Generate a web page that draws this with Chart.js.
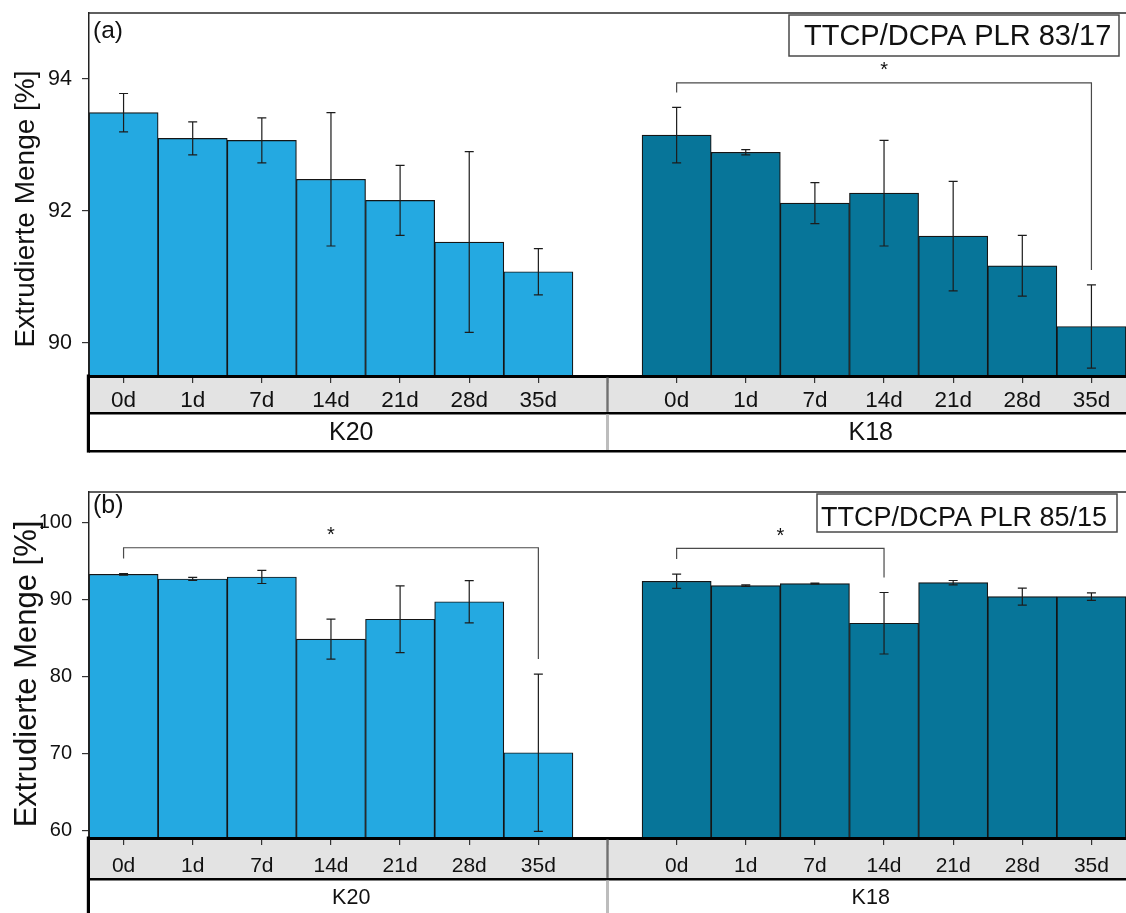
<!DOCTYPE html>
<html>
<head>
<meta charset="utf-8">
<title>Extrudierte Menge</title>
<script src="https://cdn.jsdelivr.net/npm/chart.js@4.4.1/dist/chart.umd.min.js"></script>
<style>
  html, body { margin: 0; padding: 0; background: #fff; }
  #wrap { position: relative; width: 1126px; height: 913px; overflow: hidden; background: #fff; }
  canvas { position: absolute; left: 0; }
  #chartA { top: 0; }
  #chartB { top: 460px; }
</style>
</head>
<body>
<div id="wrap">
  <canvas id="chartA" width="1126" height="460"></canvas>
  <canvas id="chartB" width="1126" height="453"></canvas>
</div>
<script>
// Storage times and groups
const days = ['0d', '1d', '7d', '14d', '21d', '28d', '35d'];
const groups = ['K20', 'K18'];

// (a) TTCP/DCPA PLR 83/17 — mean and standard deviation [%]
const k20A    = [93.49, 93.10, 93.07, 92.48, 92.16, 91.53, 91.08];
const k20AErr = [0.29, 0.25, 0.34, 1.01, 0.53, 1.37, 0.35];
const k18A    = [93.15, 92.89, 92.12, 92.27, 91.62, 91.17, 90.25];
const k18AErr = [0.42, 0.04, 0.31, 0.80, 0.83, 0.46, 0.63];
const yTicksA = [90, 92, 94];

// (b) TTCP/DCPA PLR 85/15 — mean and standard deviation [%]
const k20B    = [93.30, 92.69, 92.95, 84.86, 87.45, 89.73, 70.09];
const k20BErr = [0.10, 0.20, 0.85, 2.60, 4.33, 2.75, 10.23];
const k18B    = [92.39, 91.82, 92.08, 86.93, 92.21, 90.39, 90.39];
const k18BErr = [0.93, 0.10, 0.08, 4.00, 0.28, 1.10, 0.48];
const yTicksB = [60, 70, 80, 90, 100];

// Significant differences (category index from / to, bracket level in %)
const sigA = [{ from: 8, to: 14, level: 93.94 }];
const sigB = [{ from: 0, to: 6, level: 96.75 }, { from: 8, to: 11, level: 96.68 }];

const colK20 = '#24a9e1';
const colK18 = '#077599';

Chart.defaults.font.family = "'Liberation Sans', Arial, Helvetica, sans-serif";
Chart.defaults.color = '#111';

// one empty slot separates the two groups
const labels = days.concat([''], days);
const joinGroups = (a, b) => a.concat([null], b);
const barColors = days.map(() => colK20).concat(['rgba(0,0,0,0)'], days.map(() => colK18));

const decor = {
  id: 'decor',
  beforeDraw(chart, args, o) {
    const { ctx, chartArea: ca } = chart;
    const xs = chart.scales.x;
    ctx.save();
    ctx.fillStyle = '#e3e3e3';
    ctx.fillRect(ca.left, xs.top, ca.right - ca.left, o.bandH);
    ctx.restore();
  },
  afterDatasetsDraw(chart, args, o) {
    const { ctx } = chart;
    const xs = chart.scales.x, ys = chart.scales.y;
    const vals = chart.data.datasets[0].data;
    const errs = o.errors;
    ctx.save();
    // error bars
    ctx.strokeStyle = '#1c1c1c';
    ctx.lineWidth = 1.2;
    vals.forEach((v, i) => {
      if (v == null) return;
      const x = xs.getPixelForValue(i);
      const yt = ys.getPixelForValue(v + errs[i]);
      const yb = ys.getPixelForValue(v - errs[i]);
      ctx.beginPath();
      ctx.moveTo(x, yt); ctx.lineTo(x, yb);
      ctx.moveTo(x - 4.5, yt); ctx.lineTo(x + 4.5, yt);
      ctx.moveTo(x - 4.5, yb); ctx.lineTo(x + 4.5, yb);
      ctx.stroke();
    });
    // significance brackets
    o.sig.forEach(s => {
      const xf = xs.getPixelForValue(s.from), xt = xs.getPixelForValue(s.to);
      const yl = ys.getPixelForValue(s.level);
      const yf = ys.getPixelForValue(vals[s.from] + errs[s.from]) - 15;
      const yt = ys.getPixelForValue(vals[s.to] + errs[s.to]) - 15;
      ctx.strokeStyle = '#4a4a4a';
      ctx.lineWidth = 1.2;
      ctx.beginPath();
      ctx.moveTo(xf, yf); ctx.lineTo(xf, yl); ctx.lineTo(xt, yl); ctx.lineTo(xt, yt);
      ctx.stroke();
      ctx.fillStyle = '#111';
      ctx.font = "20px 'Liberation Sans', Arial, sans-serif";
      ctx.textAlign = 'center';
      ctx.textBaseline = 'alphabetic';
      ctx.fillText('*', (xf + xt) / 2, yl - 6.5);
    });
    ctx.restore();
  },
  afterDraw(chart, args, o) {
    const { ctx, chartArea: ca } = chart;
    const xs = chart.scales.x;
    const H = chart.height;
    ctx.save();
    // frame top line
    ctx.strokeStyle = '#2a2a2a';
    ctx.lineWidth = 1.5;
    ctx.beginPath();
    ctx.moveTo(ca.left, ca.top); ctx.lineTo(ca.right, ca.top);
    ctx.stroke();

    // category band lines
    const midY = xs.top + o.bandH + 1.2;
    const botY = o.bottomLine;
    ctx.strokeStyle = '#000';
    ctx.lineWidth = 2.6;
    ctx.beginPath();
    ctx.moveTo(ca.left, midY); ctx.lineTo(ca.right, midY);
    if (botY != null) { ctx.moveTo(ca.left, botY); ctx.lineTo(ca.right, botY); }
    ctx.stroke();
    ctx.lineWidth = 3.2;
    ctx.beginPath();
    ctx.moveTo(ca.left - 0.6, xs.top - 1.5);
    ctx.lineTo(ca.left - 0.6, botY != null ? botY + 1.3 : H);
    ctx.stroke();

    // group separator
    const sx = xs.getPixelForValue(7);
    ctx.strokeStyle = '#707070';
    ctx.lineWidth = 2.4;
    ctx.beginPath();
    ctx.moveTo(sx, xs.top + 1.5); ctx.lineTo(sx, midY - 1.3);
    ctx.stroke();
    ctx.strokeStyle = '#bdbdbd';
    ctx.lineWidth = 3;
    ctx.beginPath();
    ctx.moveTo(sx, midY + 1.3); ctx.lineTo(sx, botY != null ? botY - 1.3 : H);
    ctx.stroke();

    // group labels
    ctx.fillStyle = '#111';
    ctx.font = o.groupFont + "px 'Liberation Sans', Arial, sans-serif";
    ctx.textAlign = 'center';
    ctx.textBaseline = 'middle';
    ctx.fillText(groups[0], (ca.left + sx) / 2 + 3, o.groupY);
    ctx.fillText(groups[1], (sx + ca.right) / 2 + 4, o.groupY);

    // y-axis title
    ctx.save();
    ctx.translate(o.titleX, o.titleY);
    ctx.rotate(-Math.PI / 2);
    ctx.font = o.titleFont + "px 'Liberation Sans', Arial, sans-serif";
    ctx.textAlign = 'center';
    ctx.textBaseline = 'middle';
    ctx.fillText('Extrudierte Menge [%]', 0, 0);
    ctx.restore();

    // panel letter
    ctx.font = o.letterFont + "px 'Liberation Sans', Arial, sans-serif";
    ctx.textAlign = 'left';
    ctx.textBaseline = 'alphabetic';
    ctx.fillText(o.letter, ca.left + 4, o.letterY);

    // composition box
    const b = o.box;
    ctx.fillStyle = '#fff';
    ctx.fillRect(b.x, b.y, b.w, b.h);
    ctx.strokeStyle = '#4a4a4a';
    ctx.lineWidth = 1.5;
    ctx.strokeRect(b.x, b.y, b.w, b.h);
    ctx.fillStyle = '#111';
    ctx.font = b.font + "px 'Liberation Sans', Arial, sans-serif";
    ctx.fillText(b.text, b.tx, b.ty);
    ctx.restore();
  }
};

function makeChart(id, cfg) {
  return new Chart(document.getElementById(id), {
    type: 'bar',
    data: {
      labels: labels,
      datasets: [{
        data: joinGroups(cfg.k20, cfg.k18),
        backgroundColor: barColors,
        borderColor: '#151515',
        borderWidth: 1.2,
        categoryPercentage: 1,
        barPercentage: 1
      }]
    },
    options: {
      responsive: false,
      devicePixelRatio: 1,
      animation: false,
      events: [],
      layout: { padding: { top: cfg.padTop, bottom: cfg.padBottom, left: 0, right: 0 } },
      plugins: {
        legend: { display: false },
        tooltip: { enabled: false },
        decor: cfg.decor
      },
      scales: {
        x: {
          grid: { drawOnChartArea: false, drawTicks: true, tickLength: 7, color: '#333', lineWidth: 1.2, offset: false },
          border: { display: true, color: '#000', width: 3, z: 1 },
          ticks: { font: { size: cfg.xFont }, color: '#111', padding: cfg.xPad, autoSkip: false, maxRotation: 0 },
          afterFit: s => { s.height = cfg.xHeight; s.paddingLeft = 0; s.paddingRight = 0; }
        },
        y: {
          min: cfg.min,
          max: cfg.max,
          afterBuildTicks: s => { s.ticks = cfg.ticks.map(v => ({ value: v })); },
          grid: { drawOnChartArea: false, drawTicks: true, tickLength: 7, color: '#333', lineWidth: 1.2 },
          border: { display: true, color: '#222', width: 1.5, z: 1 },
          ticks: { font: { size: cfg.yFont }, color: '#111', padding: 10 },
          afterFit: s => { s.width = 89; s.paddingTop = 0; s.paddingBottom = 0; }
        }
      }
    },
    plugins: [decor]
  });
}

makeChart('chartA', {
  k20: k20A, k18: k18A, min: 89.5, max: 95, ticks: yTicksA,
  padTop: 13, padBottom: 8, xHeight: 76, xFont: 22.5, xPad: 4.5, yFont: 21.5,
  decor: {
    errors: joinGroups(k20AErr, k18AErr), sig: sigA,
    bandH: 36, bottomLine: 451.3, groupY: 433, groupFont: 25,
    titleX: 26.5, titleY: 209, titleFont: 28,
    letter: '(a)', letterFont: 24.5, letterY: 38,
    box: { x: 789, y: 15, w: 330, h: 41, font: 29, text: 'TTCP/DCPA PLR 83/17', tx: 804, ty: 45 }
  }
});

makeChart('chartB', {
  k20: k20B, k18: k18B, min: 59, max: 104, ticks: yTicksB,
  padTop: 32, padBottom: 0, xHeight: 75, xFont: 21, xPad: 9, yFont: 20,
  decor: {
    errors: joinGroups(k20BErr, k18BErr), sig: sigB,
    bandH: 40, bottomLine: null, groupY: 438.5, groupFont: 21.5,
    titleX: 27, titleY: 214, titleFont: 31,
    letter: '(b)', letterFont: 25, letterY: 53,
    box: { x: 817, y: 34, w: 300, h: 38, font: 27, text: 'TTCP/DCPA PLR 85/15', tx: 821, ty: 65.5 }
  }
});
</script>
</body>
</html>
